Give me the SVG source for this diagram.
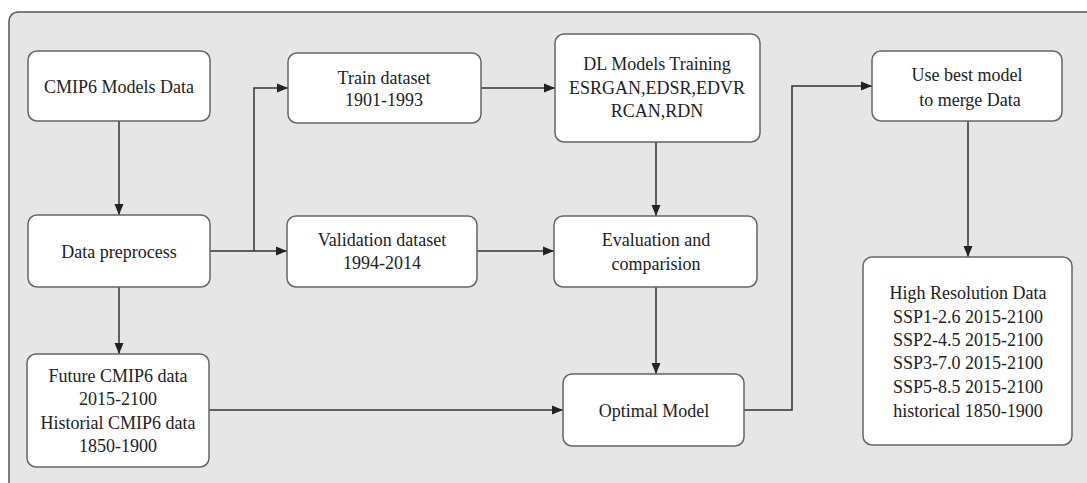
<svg xmlns="http://www.w3.org/2000/svg" width="1087" height="483" viewBox="0 0 1087 483">
<style>
.node rect{fill:#fff;stroke:#666;stroke-width:1.5}
.node text{font-family:'Liberation Serif','Times New Roman',serif;font-size:18px;fill:#222;text-anchor:middle}
.conn path{fill:none;stroke:#333;stroke-width:1.5}
.conn .a{marker-end:url(#arr)}
</style>
<defs>
<marker id="arr" markerUnits="userSpaceOnUse" markerWidth="12" markerHeight="10" refX="11" refY="5" orient="auto">
<path d="M0,0.5 L11,5 L0,9.5 Z" fill="#222"/>
</marker>
</defs>
<rect x="9" y="12" width="1092" height="485" rx="9" fill="#e6e6e6" stroke="#555" stroke-width="1.5"/>
<g id="connectors" class="conn">
<path class="a" d="M119,121 V215"/>
<path class="a" d="M210,251 H287"/>
<path class="a" d="M254,251 V88 H288"/>
<path class="a" d="M119,287 V354"/>
<path class="a" d="M481,88 H555"/>
<path class="a" d="M477,251 H554"/>
<path class="a" d="M656,142 V216"/>
<path class="a" d="M656,287 V374"/>
<path class="a" d="M209,410 H563"/>
<path class="a" d="M744,410 H792 V86 H872"/>
<path class="a" d="M968,121 V257"/>
</g>
<g id="cmip6" class="node">
<rect x="28" y="51" width="182" height="70" rx="9"/>
<text x="119" y="93">CMIP6 Models Data</text>
</g>
<g id="preprocess" class="node">
<rect x="28" y="215" width="182" height="72" rx="9"/>
<text x="119" y="258">Data preprocess</text>
</g>
<g id="future" class="node">
<rect x="27" y="354" width="182" height="113" rx="9"/>
<text x="118" y="382">Future CMIP6 data</text>
<text x="118" y="405">2015-2100</text>
<text x="118" y="429">Historial CMIP6 data</text>
<text x="118" y="452">1850-1900</text>
</g>
<g id="train" class="node">
<rect x="288" y="53" width="193" height="70" rx="9"/>
<text x="384" y="84">Train dataset</text>
<text x="384" y="106">1901-1993</text>
</g>
<g id="validation" class="node">
<rect x="287" y="216" width="190" height="71" rx="9"/>
<text x="382" y="246">Validation dataset</text>
<text x="382" y="269">1994-2014</text>
</g>
<g id="dltrain" class="node">
<rect x="555" y="34" width="205" height="108" rx="9"/>
<text x="657" y="70">DL Models Training</text>
<text x="657" y="94">ESRGAN,EDSR,EDVR</text>
<text x="657" y="117">RCAN,RDN</text>
</g>
<g id="evaluation" class="node">
<rect x="554" y="216" width="203" height="71" rx="9"/>
<text x="656" y="246">Evaluation and</text>
<text x="656" y="270">comparision</text>
</g>
<g id="optimal" class="node">
<rect x="563" y="374" width="181" height="72" rx="9"/>
<text x="654" y="417">Optimal Model</text>
</g>
<g id="usebest" class="node">
<rect x="872" y="51" width="190" height="70" rx="9"/>
<text x="967" y="81">Use best model</text>
<text x="970" y="106">to merge Data</text>
</g>
<g id="highres" class="node">
<rect x="863" y="257" width="209" height="188" rx="9"/>
<text x="968" y="299">High Resolution Data</text>
<text x="968" y="323">SSP1-2.6 2015-2100</text>
<text x="968" y="346">SSP2-4.5 2015-2100</text>
<text x="968" y="369">SSP3-7.0 2015-2100</text>
<text x="968" y="393">SSP5-8.5 2015-2100</text>
<text x="968" y="417">historical 1850-1900</text>
</g>
</svg>
